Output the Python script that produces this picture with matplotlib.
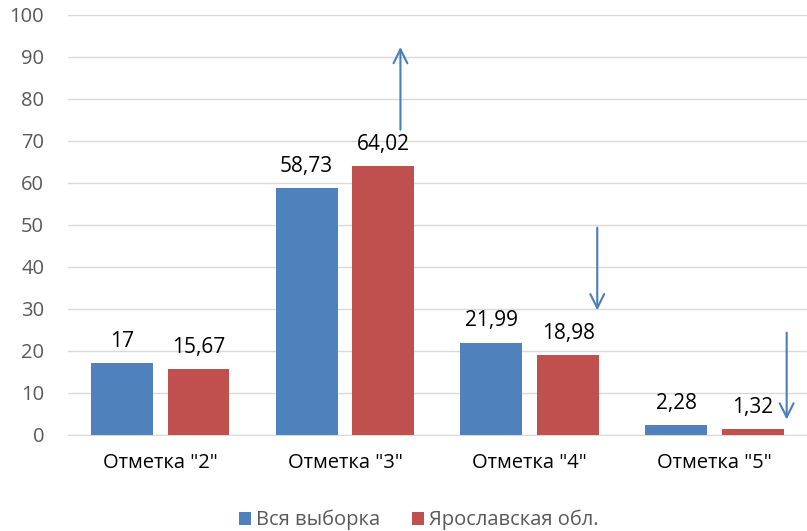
import matplotlib.pyplot as plt
import numpy as np

categories = ['Отметка "2"', 'Отметка "3"', 'Отметка "4"', 'Отметка "5"']
all_sample = [17, 58.73, 21.99, 2.28]
yaroslavl = [15.67, 64.02, 18.98, 1.32]
series_names = ["Вся выборка", "Ярославская обл."]

# arrows drawn over the chart: (x, y_start, y_end) in data units
arrows = [(1.30, 72, 93), (2.365, 50, 29), (3.39, 25, 3)]

plt.rcParams['font.family'] = ['Open Sans', 'DejaVu Sans']

fig = plt.figure(figsize=(8.07, 5.31), dpi=100)
ax = fig.add_axes([0.084, 0.181, 0.916, 0.791])

x = np.arange(len(categories))
w = 0.335
gap = 0.08
b1 = ax.bar(x - (w + gap) / 2, all_sample, w, color='#4f81bd', label=series_names[0], zorder=3)
b2 = ax.bar(x + (w + gap) / 2, yaroslavl, w, color='#c0504d', label=series_names[1], zorder=3)

def fmt(v):
    s = ('%.2f' % v).rstrip('0').rstrip('.')
    return s.replace('.', ',')

for bars, vals in ((b1, all_sample), (b2, yaroslavl)):
    for r, v in zip(bars, vals):
        ax.annotate(fmt(v), (r.get_x() + r.get_width() / 2, v), xytext=(0, 8),
                    textcoords='offset points', ha='center', va='bottom',
                    fontsize=15, color='black')

for ax_x, y0, y1 in arrows:
    ax.annotate('', xy=(ax_x, y1), xytext=(ax_x, y0),
                arrowprops=dict(arrowstyle='->', color='#4a7ebb', lw=1.5,
                                mutation_scale=25), zorder=5)

ax.set_xlim(-0.5, 3.5)
ax.set_ylim(0, 100)
ax.set_yticks(range(0, 101, 10))
ax.yaxis.grid(True, color='#d9d9d9', lw=1, zorder=0)
for s in ['top', 'right', 'left']:
    ax.spines[s].set_visible(False)
ax.spines['bottom'].set_color('#d9d9d9')
ax.tick_params(axis='y', length=0, labelsize=14.5, colors='#595959', pad=17)
ax.tick_params(axis='x', length=0, labelsize=14.5, pad=13, labelcolor='black')
ax.set_xticks(x)
ax.set_xticklabels(categories)

fig.legend(handles=[b1, b2], loc='lower center', bbox_to_anchor=(0.519, -0.033), ncol=2,
           frameon=False, fontsize=14.5, handlelength=0.6, handleheight=0.6,
           handletextpad=0.25, columnspacing=1.6, labelcolor='#595959')

fig.savefig('out.png', dpi=100)
